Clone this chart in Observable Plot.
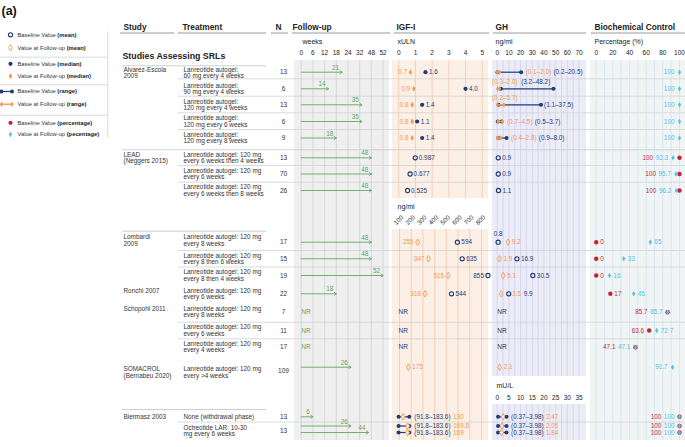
<!DOCTYPE html>
<html>
<head>
<meta charset="utf-8">
<script src="https://cdn.jsdelivr.net/npm/d3@7"></script>
<script src="https://cdn.jsdelivr.net/npm/@observablehq/plot@0.6"></script>
<style>
html,body{margin:0;padding:0;background:#fff;}
#chart{position:relative;width:685px;height:447px;overflow:hidden;background:#fff;}
#chart svg{position:absolute;left:0;top:0;background:transparent !important;font-family:"Liberation Sans",Arial,sans-serif !important;overflow:visible;}
</style>
</head>
<body>
<div id="chart"></div>
<script>
// ================= DATA =================
const studyNames = ["Alvarez-Escola\n2009","LEAD\n(Neggers 2015)","Lombardi\n2009","Ronchi 2007","Schopohl 2011","SOMACROL\n(Bernabeu 2020)","Biermasz 2003"];
const studyFirstRow = [0,5,8,11,12,15,16];
const treatments = [
  "Lanreotide autogel:\n60 mg every 4 weeks",
  "Lanreotide autogel:\n90 mg every 4 weeks",
  "Lanreotide autogel:\n120 mg every 4 weeks",
  "Lanreotide autogel:\n120 mg every 6 weeks",
  "Lanreotide autogel:\n120 mg every 8 weeks",
  "Lanreotide autogel: 120 mg\nevery 6 weeks then 4 weeks",
  "Lanreotide autogel: 120 mg\nevery 6 weeks",
  "Lanreotide autogel: 120 mg\nevery 6 weeks then 8 weeks",
  "Lanreotide autogel: 120 mg\nevery 8 weeks",
  "Lanreotide autogel: 120 mg\nevery 8 then 6 weeks",
  "Lanreotide autogel: 120 mg\nevery 8 then 4 weeks",
  "Lanreotide autogel: 120 mg\nevery 6 weeks",
  "Lanreotide autogel: 120 mg\nevery 8 weeks",
  "Lanreotide autogel: 120 mg\nevery 6 weeks",
  "Lanreotide autogel: 120 mg\nevery 4 weeks",
  "Lanreotide autogel: 120 mg\nevery >4 weeks",
  "None (withdrawal phase)",
  "Octreotide LAR: 10-30\nmg every 6 weeks"
];
const nPatients = [13,6,13,6,9,13,70,26,17,15,19,22,7,11,17,109,13,13];
// plotted lines (the Octreotide LAR row has two lines)
const lineRow = [0,1,2,3,4,5,6,7,8,9,10,11,12,13,14,15,16,17,17];
const followUpWeeks = [21,14,35,35,18,48,48,48,48,48,52,18,null,null,null,26,6,26,44];
const nrLines = [12,13,14];
// IGF-I
const igfMedianBase = [1.6,4.0,1.4,1.1,1.4];        // xULN, lines 0-4
const igfMedianFollow = [0.7,0.9,0.8,0.8,0.8];
const igfMeanBaseUln = [0.987,0.677,0.525];          // xULN, lines 5-7
const igfMeanBaseNg = [594,635,855,544];             // ng/ml, lines 8-11
const igfMeanFollowNg = [255,347,515,318];           // ng/ml, lines 8-11
const igfMeanFollowSomacrol = 175;                   // line 15
const igfRangeBaseNg = [91.8,183.6];                 // lines 16-18
const igfFollowBiermasz = [130,169.8,169];
// GH
const ghRangeBase = [[0.2,20.5],[3.2,48.2],[1.1,37.5],[0.5,3.7],[0.9,8.0]];
const ghRangeFollow = [[0.1,2.0],[0.3,2.0],[0.2,5.7],[0.7,4.5],[0.4,2.8]];
const ghMeanBaseLead = [0.9,0.9,1.1];
const ghMeanBase = [0.8,16.9,30.5,9.9];
const ghMeanFollow = [9.2,1.9,5.1,3.5];
const ghMeanFollowSomacrol = 2.1;
const ghRangeBaseMU = [0.37,3.98];
const ghFollowMU = [2.47,2.05,1.84];
// Biochemical control (%)
const ctrlBase = [null,null,null,null,null,100,100,100,0,0,0,17,85.7,63.6,47.1,null,100,100,100];
const ctrlFollow = [100,100,100,100,100,92.3,95.7,96.2,65,33,16,45,85.7,72.7,47.1,91.7,100,100,100];
// ticks
const weekTicks = [0,6,12,18,24,32,48,52];
const ulnTicks = [0,1,2,3,4,5];
const igfNgTicks = [100,200,300,400,500,600,700,800];
const ghTicks = [0,10,20,30,40,50,60,70];
const muTicks = [0,5,10,15,20,25,30,35];
const pctTicks = [0,20,40,60,80,100];
// texts
const headers = ["Study","Treatment","N","Follow-up","IGF-I","GH","Biochemical Control"];
const subHeaders = ["weeks","xULN","ng/ml","Percentage (%)"];
const legendText = [
  ["Baseline Value ","(mean)"],["Value at Follow-up ","(mean)"],
  ["Baseline Value ","(median)"],["Value at Follow-up ","(median)"],
  ["Baseline Value ","(range)"],["Value at Follow-up ","(range)"],
  ["Baseline Value ","(percentage)"],["Value at Follow-up ","(pecentage)"]
];

// ================= LAYOUT / STYLE =================
const W = 685, H = 447;
const navy = "#1d3c78", orange = "#f29a50", green = "#62a862", red = "#c91f37", sky = "#55c1e3", ink = "#333";
const LS = 6.4;
const rowY = [71.7,88.3,104.3,121,137.5,157.3,173.5,190,241.7,258.3,275,293.3,311.7,330,346.7,366.7,416.3,430.6];
const lineY = [...rowY.slice(0,17), 425.5, 432];
const textY = rowY.slice(); textY[0] = 72.3; textY[8] = 240; textY[15] = 372;
const nY = rowY.slice(); nY[15] = 370; nY[17] = 430;
const headerX = [123,182,275,292,396,495,594];
const headerLine = [[120,174],[178,266],[271,288],[292,390],[394,489],[493,586],[591,685]];
const subHeaderX = [302,397,495,594];
const legendY = [34.3,47.3,63.3,75.7,91,103.7,122.3,134];
const bgPanels = [
  {x1:294,x2:389,y1:60,y2:440,fill:"#efefef"},
  {x1:392,x2:488,y1:60,y2:198,fill:"#fcefe6"},
  {x1:392,x2:488,y1:229,y2:440,fill:"#fcefe6"},
  {x1:492,x2:586,y1:60,y2:376,fill:"#ececf7"},
  {x1:492,x2:586,y1:404,y2:440,fill:"#ececf7"},
  {x1:590,x2:685,y1:60,y2:440,fill:"#f1f4f4"}
];
const sepShort = [65.3,230.7,409];
const sepFull = [149.3];
const sepRow = [78.3,95.7,112.3,129,165,181.7,250,266.5,321.7,338.3,421.5];

const ctx = document.createElement("canvas").getContext("2d");
function tw(s, size, weight) { ctx.font = `${weight||"normal"} ${size}px "Liberation Sans", Arial, sans-serif`; return ctx.measureText(s).width; }
function label(x, y, text, fill, o) {
  o = o || {};
  return Plot.text([{x, y}], {x: "x", y: "y", text: () => text, fill, dx: o.dx || 0, dy: o.dy || 0,
    textAnchor: o.anchor || "start", fontSize: o.size || LS, fontWeight: o.weight || "normal", rotate: o.rotate || 0});
}
function panel(xOpts, marks) {
  return Plot.plot({width: W, height: H, margin: 0, x: Object.assign({axis: null}, xOpts), y: {type: "identity", axis: null}, marks});
}
const rng = (a, b, dec) => `(${a.toFixed(dec)}–${b.toFixed(dec)})`;
const root = document.getElementById("chart");

// ================= BASE (texts, backgrounds, legend) =================
const studyData = studyNames.map((s, k) => {
  const r = studyFirstRow[k];
  const nL = s.split("\n").length, tL = treatments[r].split("\n").length;
  return {s, y: nL === 2 ? textY[r] : (tL === 2 ? textY[r] - 3.1 : textY[r])};
});
const legendMarks = [
  Plot.dot([0], {x: 10, y: legendY[0], r: 2.1, stroke: navy, strokeWidth: 1.1, fill: "none"}),
  Plot.dot([0], {x: 10, y: legendY[1], r: 2, symbol: "diamond", stroke: orange, strokeWidth: 0.9, fill: "none"}),
  Plot.dot([0], {x: 10, y: legendY[2], r: 2.1, fill: navy}),
  Plot.dot([0], {x: 10, y: legendY[3], r: 1.8, symbol: "diamond", fill: orange}),
  Plot.ruleY([0], {x1: 1, x2: 11.5, y: legendY[4], stroke: navy, strokeWidth: 1.2}),
  Plot.dot([1, 11.5], {x: d => d, y: legendY[4], r: 2, fill: navy}),
  Plot.ruleY([0], {x1: 1, x2: 11.5, y: legendY[5], stroke: orange, strokeWidth: 1.4}),
  Plot.dot([1, 11.5], {x: d => d, y: legendY[5], r: 1.7, symbol: "diamond", fill: orange}),
  Plot.dot([0], {x: 10, y: legendY[6], r: 2.1, fill: red}),
  Plot.dot([0], {x: 10, y: legendY[7], r: 1.7, symbol: "diamond", fill: sky}),
  Plot.text(legendText, {x: 17, y: (d, i) => legendY[i], text: d => d[0], textAnchor: "start", fontSize: 5.8, fill: ink}),
  Plot.text(legendText, {x: d => 17 + tw(d[0], 5.8), y: (d, i) => legendY[i], text: d => d[1], textAnchor: "start", fontSize: 5.8, fontWeight: "bold", fill: "#222"}),
  Plot.ruleY([56.7, 84.3, 114.7], {x1: 0, x2: 107, y: d => d, stroke: "#cfcfcf", strokeWidth: 0.8}),
  Plot.ruleX([107.3], {x: d => d, y1: 31.5, y2: 138, stroke: "#cfcfcf", strokeWidth: 0.8})
];
const base = Plot.plot({
  width: W, height: H, margin: 0,
  x: {type: "identity", axis: null}, y: {type: "identity", axis: null},
  marks: [
    ...bgPanels.map(p => Plot.rect([p], {x1: "x1", x2: "x2", y1: "y1", y2: "y2", fill: p.fill})),
    Plot.ruleY(sepShort, {x1: 122, x2: 266, y: d => d, stroke: "#c9c9c9", strokeWidth: 0.9}),
    Plot.ruleY(sepFull, {x1: 122, x2: 685, y: d => d, stroke: "#cdcdcd", strokeWidth: 0.9}),
    Plot.ruleY(sepRow, {x1: 178, x2: 685, y: d => d, stroke: "#d6d6d6", strokeWidth: 0.9}),
    Plot.ruleY(headerLine, {x1: d => d[0], x2: d => d[1], y: 32.5, stroke: "#9a9a9a", strokeWidth: 1}),
    Plot.text(headers, {x: (d, i) => headerX[i], y: 26.5, text: d => d, textAnchor: "start", fontSize: 8.3, fontWeight: "bold", fill: "#222"}),
    Plot.text(subHeaders, {x: (d, i) => subHeaderX[i], y: 41, text: d => d, textAnchor: "start", fontSize: 7, fill: "#222"}),
    Plot.text(["(a)"], {x: 1, y: 10, text: d => d, textAnchor: "start", fontSize: 12.5, fontWeight: "bold", fill: "#111"}),
    Plot.text(["Studies Assessing SRLs"], {x: 122, y: 56, text: d => d, textAnchor: "start", fontSize: 8.8, fontWeight: "bold", fill: "#222"}),
    Plot.text(studyData, {x: 123, y: "y", text: "s", textAnchor: "start", fontSize: 6.4, lineHeight: 0.95, fill: ink}),
    Plot.text(treatments, {x: 183, y: (d, i) => textY[i], text: d => d, textAnchor: "start", fontSize: 6.4, lineHeight: 0.95, fill: ink}),
    Plot.text(nPatients, {x: 283, y: (d, i) => nY[i], text: d => String(d), textAnchor: "middle", fontSize: 6.5, fill: ink}),
    Plot.text(["ng/ml"], {x: 397, y: 206, text: d => d, textAnchor: "start", fontSize: 7, fill: "#222"}),
    Plot.text(["mU/L"], {x: 496, y: 385, text: d => d, textAnchor: "start", fontSize: 7, fill: "#222"}),
    ...legendMarks
  ]
});
root.appendChild(base);

// ================= FOLLOW-UP =================
// the weeks axis is evenly spaced between its ticks: weeks -> tick position (piecewise linear)
const wk = d3.scaleLinear(weekTicks, d3.range(weekTicks.length));
const fuLines = followUpWeeks.map((w, i) => ({w, y: lineY[i]})).filter(d => d.w !== null);
root.appendChild(panel({domain: [0, weekTicks.length - 1], range: [300.7, 300.7 + 11.7 * (weekTicks.length - 1)]}, [
  Plot.ruleX(weekTicks, {x: d => wk(d), y1: 60, y2: 440, stroke: "#d0d0d0", strokeWidth: 0.8}),
  Plot.text(weekTicks, {x: d => wk(d), y: 52, text: d => String(d), fontSize: 6.5, fill: "#222"}),
  Plot.arrow(fuLines, {x1: () => wk(0), x2: d => wk(d.w), y1: "y", y2: "y", stroke: green, strokeWidth: 0.9, headLength: 4, headAngle: 70}),
  Plot.text(fuLines, {x: d => wk(d.w), y: "y", text: d => String(d.w), dx: -3, dy: -4.5, textAnchor: "end", fill: green, fontSize: LS}),
  Plot.text(nrLines, {x: () => wk(0), y: i => lineY[i], text: () => "NR", textAnchor: "start", fill: green, fontSize: 6.5})
]));

// ================= IGF-I (xULN) =================
const igfMed = igfMedianBase.map((b, i) => ({b, f: igfMedianFollow[i], y: lineY[i]}));
const igfMeanU = igfMeanBaseUln.map((b, i) => ({b, y: lineY[i + 5]}));
root.appendChild(panel({domain: [0, 5], range: [398.3, 481.7]}, [
  Plot.ruleX(ulnTicks, {x: d => d, y1: 60, y2: 198, stroke: "#f3c8ad", strokeWidth: 0.8}),
  Plot.text(ulnTicks, {x: d => d, y: 52, text: d => String(d), fontSize: 6.5, fill: "#222"}),
  Plot.dot(igfMed, {x: "b", y: "y", r: 2.1, fill: navy}),
  Plot.text(igfMed, {x: "b", y: "y", text: d => d.b.toFixed(1), dx: 3.5, textAnchor: "start", fill: navy, fontSize: LS}),
  Plot.dot(igfMed, {x: "f", y: "y", r: 1.8, symbol: "diamond", fill: orange}),
  Plot.text(igfMed, {x: "f", y: "y", text: d => d.f.toFixed(1), dx: -3.5, textAnchor: "end", fill: orange, fontSize: LS}),
  Plot.dot(igfMeanU, {x: "b", y: "y", r: 2.1, stroke: navy, strokeWidth: 1.1, fill: "none"}),
  Plot.text(igfMeanU, {x: "b", y: "y", text: d => String(d.b), dx: 3.5, textAnchor: "start", fill: navy, fontSize: LS})
]));

// ================= IGF-I (ng/ml) =================
const igfNg = igfMeanBaseNg.map((b, i) => ({b, f: igfMeanFollowNg[i], y: lineY[i + 8]}));
const igfFollowAll = [...igfNg.map(d => ({f: d.f, y: d.y})), {f: igfMeanFollowSomacrol, y: lineY[15]}];
const igfBier = igfFollowBiermasz.map((f, i) => ({lo: igfRangeBaseNg[0], hi: igfRangeBaseNg[1], f, y: lineY[16 + i]}));
const igfBaseLeft = [false, false, true, false];
const igfNgLabels = [];
igfNg.forEach((d, i) => {
  igfNgLabels.push(label(d.f, d.y, String(d.f), orange, {dx: -4, anchor: "end"}));
  igfNgLabels.push(igfBaseLeft[i] ? label(d.b, d.y, String(d.b), navy, {dx: -4, anchor: "end"}) : label(d.b, d.y, String(d.b), navy, {dx: 4}));
});
igfNgLabels.push(label(igfMeanFollowSomacrol, lineY[15], String(igfMeanFollowSomacrol), orange, {dx: 4}));
igfBier.forEach(d => {
  const nl = rng(d.lo, d.hi, 1);
  igfNgLabels.push(label(d.hi, d.y, nl, navy, {dx: 5}));
  igfNgLabels.push(label(d.hi, d.y, String(d.f), orange, {dx: 5 + tw(nl, LS) + 2.5}));
});
root.appendChild(panel({domain: [100, 800], range: [399, 481]}, [
  Plot.ruleX(igfNgTicks, {x: d => d, y1: 229, y2: 440, stroke: "#f3c8ad", strokeWidth: 0.8}),
  Plot.text(igfNgTicks, {x: d => d, y: 219.5, text: d => String(d), rotate: -45, dx: -1, fontSize: 6.3, fill: "#222"}),
  Plot.dot(igfNg, {x: "b", y: "y", r: 2.1, stroke: navy, strokeWidth: 1.1, fill: "none"}),
  Plot.dot(igfFollowAll, {x: "f", y: "y", r: 2, symbol: "diamond", stroke: orange, strokeWidth: 0.9, fill: "none"}),
  Plot.ruleY(igfBier, {x1: "lo", x2: "hi", y: "y", stroke: navy, strokeWidth: 1.2}),
  Plot.dot(igfBier, {x: "lo", y: "y", r: 2, fill: navy}),
  Plot.dot(igfBier, {x: "hi", y: "y", r: 2, fill: navy}),
  Plot.dot(igfBier, {x: "f", y: "y", r: 2, symbol: "diamond", stroke: orange, strokeWidth: 0.9, fill: "#fcefe6"}),
  Plot.text(nrLines, {x: 100, y: i => lineY[i], text: () => "NR", dx: -1, textAnchor: "start", fill: navy, fontSize: 6.5}),
  ...igfNgLabels
]));

// ================= GH (ng/ml) =================
const ghGrid = d3.range(0, 70.1, 5);
const ghLabelMode = ["right", "above", "mixed", "right", "right"];
const ghR = ghRangeBase.map((b, i) => ({b0: b[0], b1: b[1], f0: ghRangeFollow[i][0], f1: ghRangeFollow[i][1], y: lineY[i]}));
const ghREnds = ghR.flatMap(d => [{x: d.f0, y: d.y}, {x: d.f1, y: d.y}]);
const ghLabels = [];
ghR.forEach((d, i) => {
  const ol = rng(d.f0, d.f1, 1), nl = rng(d.b0, d.b1, 1), m = ghLabelMode[i];
  if (m === "right") {
    const xm = Math.max(d.b1, d.f1);
    ghLabels.push(label(xm, d.y, ol, orange, {dx: 4.5}));
    ghLabels.push(label(xm, d.y, nl, navy, {dx: 4.5 + tw(ol, LS) + 2.2}));
  } else if (m === "above") {
    ghLabels.push(label(d.f0, d.y, ol, orange, {dx: -5.5, dy: -6.8}));
    ghLabels.push(label(d.f0, d.y, nl, navy, {dx: -5.5 + tw(ol, LS) + 3.5, dy: -6.8}));
  } else {
    ghLabels.push(label(d.f0, d.y, ol, orange, {dx: -5.5, dy: -6.5}));
    ghLabels.push(label(d.b1, d.y, nl, navy, {dx: 3}));
  }
});
const ghLead = ghMeanBaseLead.map((b, i) => ({b, y: lineY[5 + i]}));
const ghMean = ghMeanBase.map((b, i) => ({b, f: ghMeanFollow[i], y: lineY[8 + i]}));
const ghFollowAll = [...ghMean.map(d => ({f: d.f, y: d.y})), {f: ghMeanFollowSomacrol, y: lineY[15]}];
ghLabels.push(label(ghMean[0].b, ghMean[0].y, String(ghMean[0].b), navy, {dy: -8.3, anchor: "middle"}));
ghLabels.push(label(ghMean[0].f, ghMean[0].y, String(ghMean[0].f), orange, {dx: 4}));
[1, 2].forEach(i => {
  ghLabels.push(label(ghMean[i].f, ghMean[i].y, String(ghMean[i].f), orange, {dx: 4}));
  ghLabels.push(label(ghMean[i].b, ghMean[i].y, String(ghMean[i].b), navy, {dx: 4}));
});
ghLabels.push(label(ghMean[3].b, ghMean[3].y, String(ghMean[3].f), orange, {dx: 3.5}));
ghLabels.push(label(ghMean[3].b, ghMean[3].y, String(ghMean[3].b), navy, {dx: 3.5 + tw(String(ghMean[3].f), LS) + 2.5}));
ghLabels.push(label(ghMeanFollowSomacrol, lineY[15], String(ghMeanFollowSomacrol), orange, {dx: 4}));
root.appendChild(panel({domain: [0, 70], range: [496.7, 578.5]}, [
  Plot.ruleX(ghGrid, {x: d => d, y1: 60, y2: 376, stroke: "#d0d0f0", strokeWidth: 0.8}),
  Plot.text(ghTicks, {x: d => d, y: 52, text: d => String(d), fontSize: 6.5, fill: "#222"}),
  Plot.ruleY(ghR, {x1: "b0", x2: "b1", y: "y", stroke: navy, strokeWidth: 1.2}),
  Plot.dot(ghR, {x: "b0", y: "y", r: 2, fill: navy}),
  Plot.dot(ghR, {x: "b1", y: "y", r: 2, fill: navy}),
  Plot.ruleY(ghR, {x1: "f0", x2: "f1", y: "y", stroke: orange, strokeWidth: 1.6}),
  Plot.dot(ghREnds, {x: "x", y: "y", r: 1.7, symbol: "diamond", fill: orange}),
  Plot.dot(ghLead, {x: "b", y: "y", r: 2.1, stroke: navy, strokeWidth: 1.1, fill: "none"}),
  Plot.text(ghLead, {x: "b", y: "y", text: d => String(d.b), dx: 4, textAnchor: "start", fill: navy, fontSize: LS}),
  Plot.dot(ghMean, {x: "b", y: "y", r: 2.1, stroke: navy, strokeWidth: 1.1, fill: "none"}),
  Plot.dot(ghFollowAll, {x: "f", y: "y", r: 2, symbol: "diamond", stroke: orange, strokeWidth: 0.9, fill: "none"}),
  Plot.text(nrLines, {x: 0, y: i => lineY[i], text: () => "NR", textAnchor: "start", fill: navy, fontSize: 6.5}),
  ...ghLabels
]));

// ================= GH (mU/L) =================
const ghMU = ghFollowMU.map((f, i) => ({lo: ghRangeBaseMU[0], hi: ghRangeBaseMU[1], f, y: lineY[16 + i]}));
const muLabels = [];
ghMU.forEach(d => {
  const nl = rng(d.lo, d.hi, 2);
  muLabels.push(label(d.hi, d.y, nl, navy, {dx: 4.5}));
  muLabels.push(label(d.hi, d.y, d.f.toFixed(2), orange, {dx: 4.5 + tw(nl, LS) + 2.2}));
});
root.appendChild(panel({domain: [0, 35], range: [496.7, 578.5]}, [
  Plot.ruleX(d3.range(0, 35.1, 2.5), {x: d => d, y1: 404, y2: 440, stroke: "#d0d0f0", strokeWidth: 0.8}),
  Plot.text(muTicks, {x: d => d, y: 397, text: d => String(d), fontSize: 6.5, fill: "#222"}),
  Plot.ruleY(ghMU, {x1: "lo", x2: "hi", y: "y", stroke: navy, strokeWidth: 1.2}),
  Plot.dot(ghMU, {x: "lo", y: "y", r: 2, fill: navy}),
  Plot.dot(ghMU, {x: "hi", y: "y", r: 2, fill: navy}),
  Plot.dot(ghMU, {x: "f", y: "y", r: 2, symbol: "diamond", stroke: orange, strokeWidth: 0.9, fill: "#ececf7"}),
  ...muLabels
]));

// ================= BIOCHEMICAL CONTROL =================
const ctrlMode = ["L","L","L","L","L","LL","LL","LL","RR","RR","RR","RR","LL","LR","LL","L","LL","LL","LL"];
const ctrlB = ctrlBase.map((b, i) => ({b, y: lineY[i]})).filter(d => d.b !== null);
const ctrlF = ctrlFollow.map((f, i) => ({f, y: lineY[i]}));
const ctrlLabels = [];
ctrlFollow.forEach((f, i) => {
  const b = ctrlBase[i], y = lineY[i], m = ctrlMode[i];
  const fs = String(f), bs = b === null ? "" : String(b);
  if (m === "L") ctrlLabels.push(label(f, y, fs, sky, {dx: -5, anchor: "end"}));
  else if (m === "LL") {
    ctrlLabels.push(label(f, y, fs, sky, {dx: -5, anchor: "end"}));
    ctrlLabels.push(label(f, y, bs, red, {dx: -5 - tw(fs, LS) - 2.5, anchor: "end"}));
  } else if (m === "RR") {
    ctrlLabels.push(label(b, y, bs, red, {dx: 4}));
    ctrlLabels.push(label(f, y, fs, sky, {dx: 4}));
  } else {
    ctrlLabels.push(label(b, y, bs, red, {dx: -5, anchor: "end"}));
    ctrlLabels.push(label(f, y, fs, sky, {dx: 4}));
  }
});
root.appendChild(panel({domain: [0, 100], range: [595.7, 679]}, [
  Plot.ruleX(d3.range(0, 100.1, 10), {x: d => d, y1: 60, y2: 440, stroke: "#cde4f0", strokeWidth: 0.8}),
  Plot.text(pctTicks, {x: d => d, y: 52, text: d => String(d), fontSize: 6.5, fill: "#222"}),
  Plot.dot(ctrlB, {x: "b", y: "y", r: 2.2, fill: red}),
  Plot.dot(ctrlF, {x: "f", y: "y", r: 1.7, symbol: "diamond", fill: sky}),
  ...ctrlLabels
]));
</script>
</body>
</html>
